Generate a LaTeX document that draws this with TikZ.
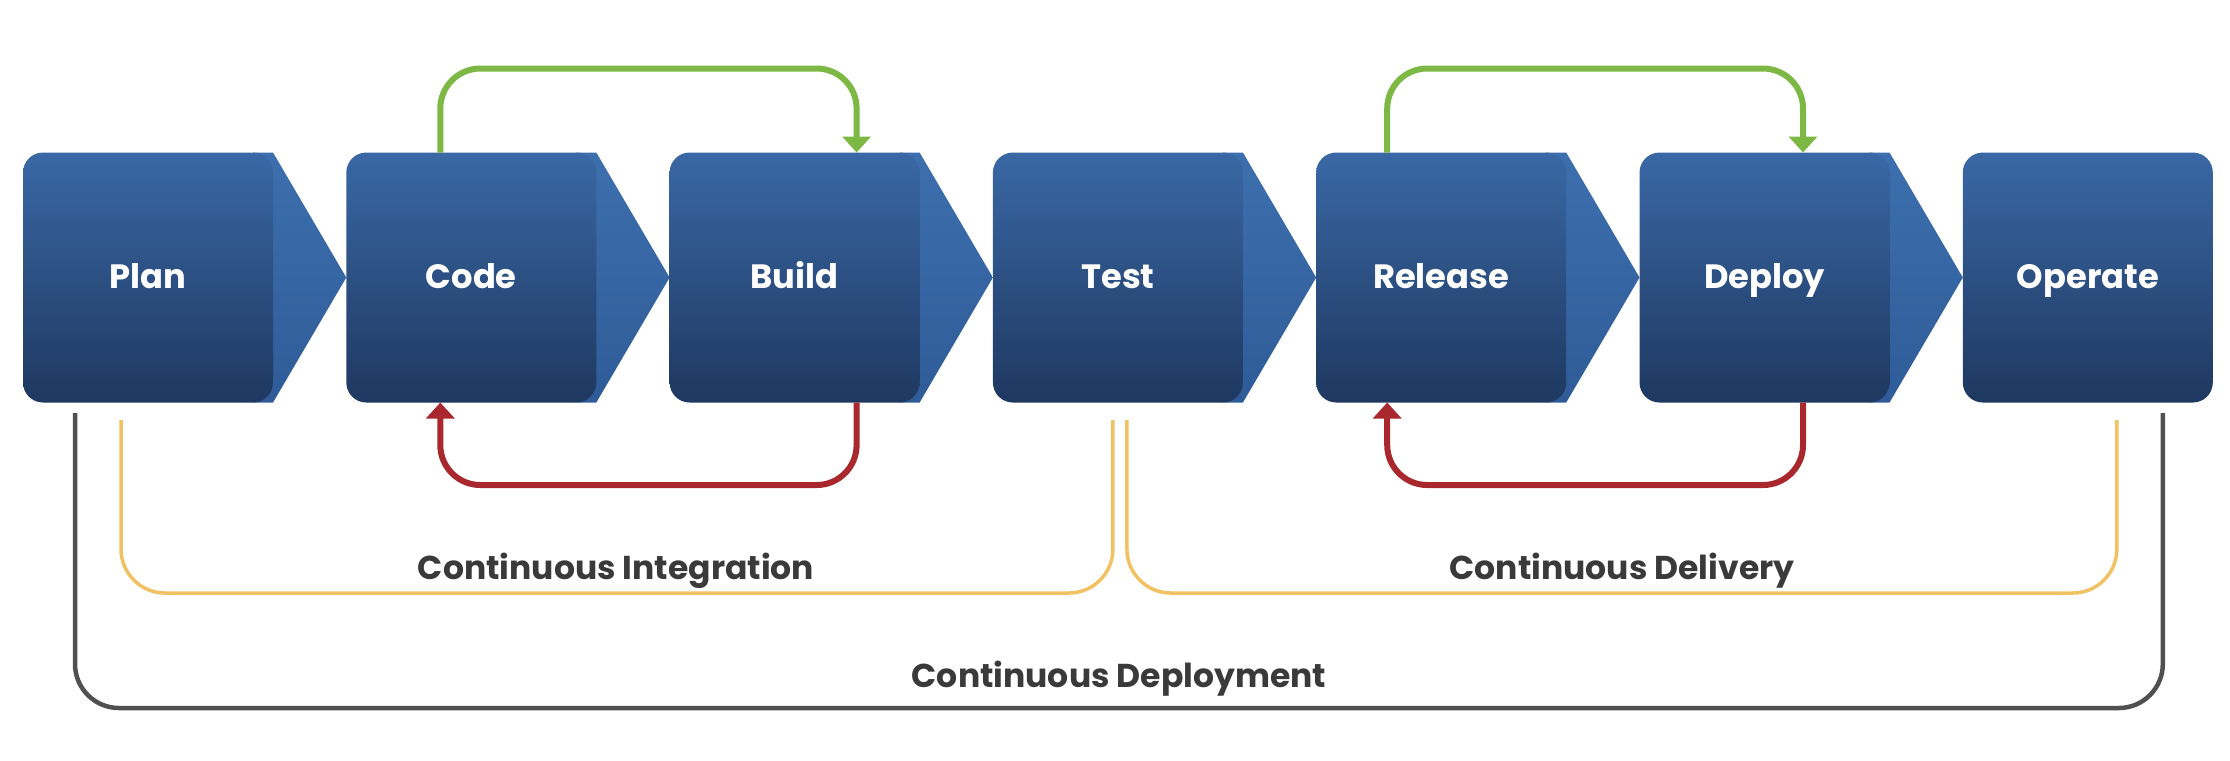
\documentclass[tikz,border=0pt]{standalone}
\usepackage{fontspec}
\setmainfont{Poppins}
\usetikzlibrary{positioning,calc,arrows.meta,backgrounds}
\definecolor{boxtop}{HTML}{3A68A5}
\definecolor{boxbot}{HTML}{1E3860}
\definecolor{chevtop}{HTML}{3D6FAE}
\definecolor{chevbot}{HTML}{2F5C98}
\definecolor{loopgreen}{HTML}{7DB844}
\definecolor{loopred}{HTML}{A9282D}
\definecolor{ciyellow}{HTML}{F1C263}
\definecolor{deploygray}{HTML}{505050}
\definecolor{captext}{HTML}{3A3A3A}

\begin{document}
\begin{tikzpicture}
	[   x=0.1mm, y=-0.1mm,
		stage/.style={rectangle,rounded corners=2mm,minimum width=25mm,minimum height=25mm,outer sep=0pt,
			top color=boxtop,bottom color=boxbot,text=white,text height=2.4mm,text depth=0.3mm,
			font=\bfseries\fontsize{9.6}{11}\selectfont},
		chevron/.style={top color=chevtop,bottom color=chevbot},
		loop/.style={draw=#1,line width=0.6mm,rounded corners=4mm,-{Triangle[width=2.8mm,length=1.6mm]}},
		bracket/.style={draw=#1,line width=0.35mm,rounded corners=4.4mm},
		caption/.style={text=captext,text height=2.4mm,text depth=0.3mm,font=\bfseries\fontsize{9.4}{11}\selectfont},
	]
	\useasboundingbox (0,0) rectangle (2230,760);
	\foreach \name/\txt [count=\i from 0] in {plan/Plan,code/Code,build/Build,test/Test,release/Release,deploy/Deploy,operate/Operate}
		\node[stage] (\name) at ({148+323.3*\i},277.5) {\txt};
	
	\begin{scope}[on background layer]
		\foreach \a/\b in {plan/code,code/build,build/test,test/release,release/deploy,deploy/operate}
			\path[chevron] ([xshift=-2mm]\a.north east) -- (\a.north east) -- (\b.west) -- (\a.south east) -- ([xshift=-2mm]\a.south east) -- cycle;
	\end{scope}
	
	\draw[loop=loopgreen] ([xshift=-3.1mm]code.north) -- ++(0,-84) -| ([xshift=6.2mm]build.north);
	\draw[loop=loopgreen] ([xshift=-5.4mm]release.north) -- ++(0,-84) -| ([xshift=3.85mm]deploy.north);
	\draw[loop=loopred] ([xshift=6.2mm]build.south) -- ++(0,82.5) -| ([xshift=-3.1mm]code.south);
	\draw[loop=loopred] ([xshift=3.85mm]deploy.south) -- ++(0,82.5) -| ([xshift=-5.4mm]release.south);
	
	\draw[bracket=ciyellow] ([shift={(-27,17.5)}]plan.south) -- ++(0,173) -| ([shift={(-5,17.5)}]test.south);
	\draw[bracket=ciyellow] ([shift={(9,17.5)}]test.south) -- ++(0,173) -| ([shift={(29,17.5)}]operate.south);
	\draw[bracket=deploygray,line width=0.45mm] ([shift={(-73,10.5)}]plan.south) -- ++(0,295) -| ([shift={(75,10.5)}]operate.south);
	
	\node[caption] (ci) at (616,569) {Continuous Integration};
	\node[caption] (cd) at (1622,569) {Continuous Delivery};
	\node[caption] (cdep) at (1119,677) {Continuous Deployment};
\end{tikzpicture}
\end{document}
